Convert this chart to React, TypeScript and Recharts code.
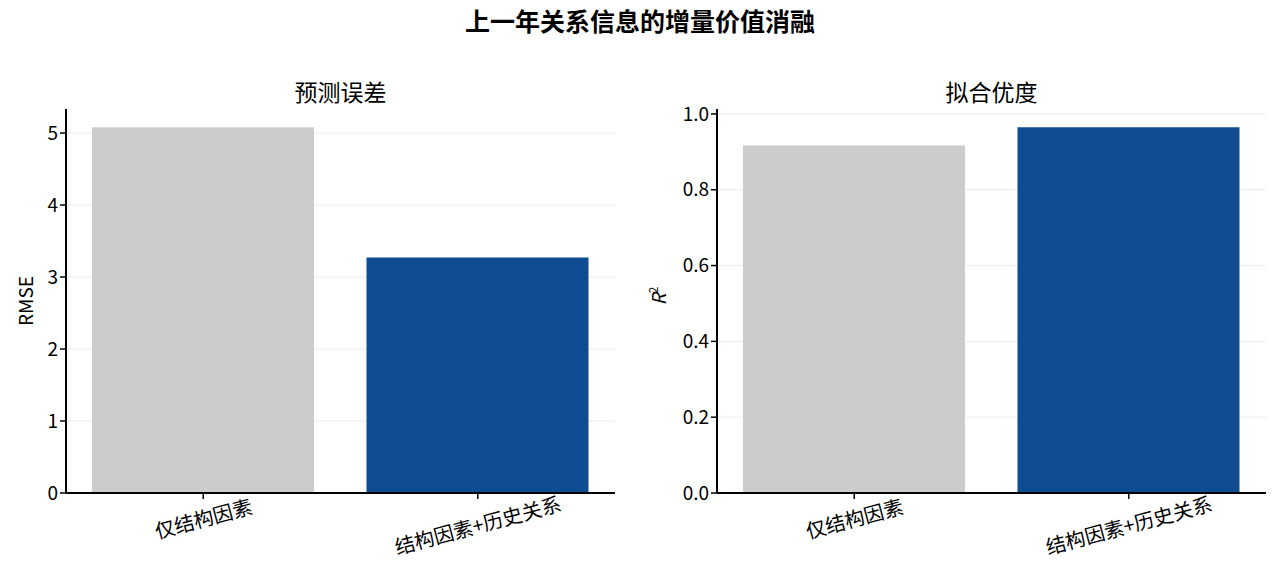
import React from "react"
import { BarChart, Bar, Cell, XAxis, YAxis, CartesianGrid } from "recharts"

const categories = ["仅结构因素", "结构因素+历史关系"]
const rmseValues = [5.08, 3.27]
const r2Values = [0.917, 0.965]
const barColors = ["#cccccc", "#0f4c91"]
const rmseTicks = [0, 1, 2, 3, 4, 5]
const r2Ticks = [0, 0.2, 0.4, 0.6, 0.8, 1.0]

const FONT = "'Noto Sans CJK SC', 'Noto Sans', sans-serif"

const rmseData = categories.map((name, i) => ({ name, value: rmseValues[i] }))
const r2Data = categories.map((name, i) => ({ name, value: r2Values[i] }))

// rotated label, longer labels drop a little lower
function AngledTick(props: any) {
  const { x, y, payload } = props
  const fs = 20
  const s = String(payload.value)
  let w = 0
  for (const ch of s) w += ch.charCodeAt(0) > 255 ? fs : fs * 0.6
  const a = (15 * Math.PI) / 180
  const h = w * Math.sin(a) + fs * Math.cos(a)
  const cx = x
  const cy = y + 1 + h * 0.35
  return (
    <text
      x={cx}
      y={cy}
      textAnchor="middle"
      dominantBaseline="central"
      transform={`rotate(-15, ${cx}, ${cy})`}
      fontSize={fs}
      fontFamily={FONT}
      fill="#000"
    >
      {s}
    </text>
  )
}

const axisStyle = { stroke: "#000", strokeWidth: 2 }
const tickStyle = { fontSize: 19, fill: "#000", fontFamily: FONT }

function Panel(props: {
  data: { name: string; value: number }[]
  domain: [number, number]
  ticks: number[]
  fmt: (v: number) => string
  left: number
  marginLeft: number
  marginRight: number
  yLabel: React.ReactNode
  title: string
}) {
  const { data, domain, ticks, fmt, left, marginLeft, marginRight, yLabel, title } = props
  return (
    <div style={{ position: "absolute", left, top: 0, width: 640, height: 561 }}>
      <BarChart
        width={640}
        height={561}
        data={data}
        margin={{ top: 109, right: marginRight, bottom: 8, left: marginLeft }}
        style={{ overflow: "visible" }}
      >
        <Bar dataKey="value" barSize={222} isAnimationActive={false}>
          {data.map((_, i) => (
            <Cell key={`c-${i}`} fill={barColors[i]} />
          ))}
        </Bar>
        <CartesianGrid
          vertical={false}
          horizontalValues={ticks}
          stroke="#e2e2e2"
          strokeOpacity={0.7}
          zIndex={100}
        />
        <XAxis
          dataKey="name"
          axisLine={axisStyle}
          tickLine={{ stroke: "#000", strokeWidth: 1.5 }}
          tickSize={6}
          height={60}
          interval={0}
          tick={<AngledTick />}
        />
        <YAxis
          type="number"
          domain={domain}
          ticks={ticks}
          tickFormatter={fmt}
          axisLine={axisStyle}
          tickLine={{ stroke: "#000", strokeWidth: 1.5 }}
          tickSize={6}
          width={60}
          tick={tickStyle}
          allowDataOverflow
        />
      </BarChart>
      <div
        style={{
          position: "absolute",
          left: marginLeft + 60,
          width: 640 - marginLeft - 60 - marginRight,
          top: 76,
          textAlign: "center",
          fontFamily: FONT,
          fontSize: 23,
          lineHeight: "30px",
          color: "#000",
        }}
      >
        {title}
      </div>
      {yLabel}
    </div>
  )
}

export default function App() {
  return (
    <div
      style={{
        position: "absolute",
        left: 0,
        top: 0,
        width: 1280,
        height: 561,
        background: "#fff",
        fontFamily: FONT,
      }}
    >
      <div
        style={{
          position: "absolute",
          left: 0,
          top: 3,
          width: 1280,
          textAlign: "center",
          fontSize: 25,
          fontWeight: 700,
          lineHeight: "34px",
          color: "#000",
        }}
      >
        上一年关系信息的增量价值消融
      </div>
      <Panel
        data={rmseData}
        domain={[0, 5.334]}
        ticks={rmseTicks}
        fmt={(v) => String(v)}
        left={0}
        marginLeft={6}
        marginRight={25}
        title="预测误差"
        yLabel={
          <div
            style={{
              position: "absolute",
              left: 24,
              top: 301,
              transform: "translate(-50%, -50%) rotate(-90deg)",
              fontSize: 19,
              whiteSpace: "nowrap",
              color: "#000",
            }}
          >
            RMSE
          </div>
        }
      />
      <Panel
        data={r2Data}
        domain={[0, 1.013]}
        ticks={r2Ticks}
        fmt={(v) => v.toFixed(1)}
        left={640}
        marginLeft={17}
        marginRight={14}
        title="拟合优度"
        yLabel={
          <div
            style={{
              position: "absolute",
              left: 17,
              top: 296,
              transform: "translate(-50%, -50%) rotate(-90deg)",
              fontSize: 19,
              whiteSpace: "nowrap",
              color: "#000",
            }}
          >
            <i>R</i>
            <sup style={{ fontSize: 12 }}>2</sup>
          </div>
        }
      />
    </div>
  )
}
